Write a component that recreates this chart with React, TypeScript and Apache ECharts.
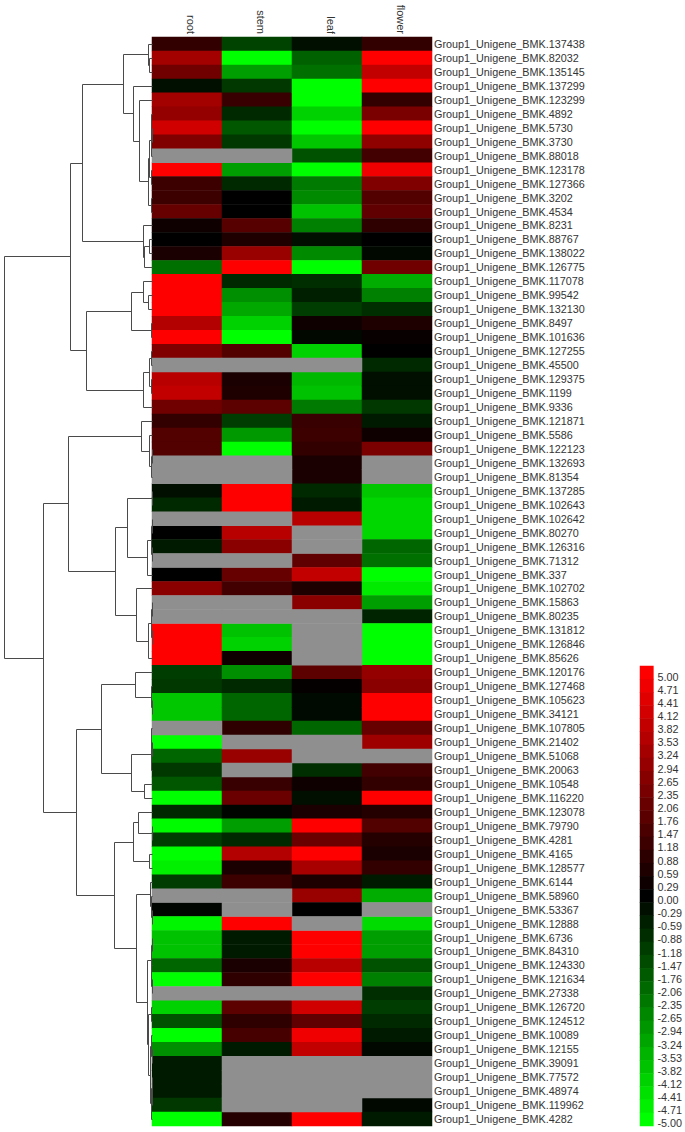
import React, { useEffect, useRef } from "react";
import * as echarts from "echarts";

const conditions = ["root", "stem", "leaf", "flower"];

const unigeneIds = [
  "137438","82032","135145","137299","123299","4892","5730","3730","88018","123178","127366","3202","4534","8231","88767","138022","126775",
  "117078","99542","132130","8497","101636","127255","45500","129375","1199","9336","121871","5586","122123","132693","81354",
  "137285","102643","102642","80270","126316","71312","337","102702","15863","80235","131812","126846","85626",
  "120176","127468","105623","34121","107805","21402","51068","20063","10548","116220","123078","79790","4281","4165","128577","6144","58960","53367","12888","6736","84310","124330","121634","27338","126720","124512","10089","12155","39091","77572","48974","119962","4282",
];

const rootValues = [
  1.0,3.2,2.2,-0.3,3.2,2.9,4.1,2.5,null,5,1.2,1.2,2.0,0.3,0,0.5,-2.2,
  5,5,5,3.5,5,2.5,null,3.6,3.8,2.2,1.0,1.6,1.6,null,null,
  -0.3,-0.8,null,0,-0.5,null,0,2.7,null,null,5,5,5,
  -1.2,-1.1,-3.9,-3.9,null,-5,-2,-1.1,-1.7,-5,-0.8,-4.9,-1.2,-5,-4.7,-1.2,null,-0.1,-4.8,-3.8,-3.8,-2,-5,null,-4.1,-1.6,-5,-2.8,-0.5,-0.5,-0.5,-1.1,-5,
];
const stemValues = [
  -1.3,-5,-3.1,-1.1,1.1,-0.8,-1.7,-1.1,null,-3.1,-0.8,0,0,1.7,0.6,3.0,5,
  -0.8,-2.8,-3.3,-4.1,-5,1.6,null,0.5,0.6,1.8,-1.2,-3,-5,null,null,
  5,5,null,3.6,2.7,null,2,1.3,null,null,-3.8,-4.1,0.3,
  -2.8,-0.8,-2,-2,0.9,null,3,null,1.1,2.1,-0.1,-3.1,-0.8,3.5,0.5,1.2,null,null,5,-0.5,-0.5,0.5,0.9,null,1.8,0.9,1.4,-0.5,null,null,null,null,0.7,
];
const leafValues = [
  -0.3,-1.9,-2.2,-5,-5,-4.1,-5,-3.9,-1.6,-5,-2.4,-2.7,-3.8,-2.5,-0.3,-2.7,-5,
  -0.9,-0.6,-1.2,0.3,-0.15,-4.1,null,-3.6,-3.8,-2.4,1.1,1.2,1.0,0.5,0.5,
  -0.8,-0.5,3.6,null,null,1.9,3.8,0.6,2.7,null,null,null,null,
  1.8,0.1,-0.2,-0.2,-2,null,null,-0.9,0.3,-0.3,0.5,5,2.1,5,3.3,0.6,3,0,null,5,5,3.6,5,null,4.1,1.9,4.7,3.8,null,null,null,null,5,
];
const flowerValues = [
  1.0,5,3.8,5,1.0,2.4,5,2.8,1.3,4.7,2.5,1.6,1.9,0.9,0,-0.15,2.2,
  -3.4,-2.5,-0.9,0.6,0.15,0,-0.8,-0.3,-0.3,-1.1,-0.5,0.3,2.4,null,null,
  -3.9,-4.2,-4.2,-4.2,-2,-2.2,-5,-4.6,-3.1,-0.7,-5,-5,-5,
  2.9,2.7,5,5,2,3.1,null,1.3,1,5,0.7,1.6,0.7,0.5,1,-0.5,-3.4,null,-4.3,-3.1,-3.1,-1.6,-2.5,-0.9,-1.2,-0.8,-0.5,-0.15,null,null,null,-0.15,-0.5,
];

const scaleLabels = [
  "5.00","4.71","4.41","4.12","3.82","3.53","3.24","2.94","2.65","2.35","2.06","1.76","1.47","1.18","0.88","0.59","0.29","0.00",
  "-0.29","-0.59","-0.88","-1.18","-1.47","-1.76","-2.06","-2.35","-2.65","-2.94","-3.24","-3.53","-3.82","-4.12","-4.41","-4.71","-5.00",
];

// Row clustering: [merge distance, child, child]; a bare number is a row index.
type Node = number | [number, Node, Node];
const upperClade: Node = [82.5,
  [70.5,
    [29.5,
      [4.5, 0, [3.5, 1, 2]],
      [19, 3, [13.5, 4,
        [4, [3.4, [1.5, [1, 5, [0.5, 6, 7]], 8], [1, 9, 10]], [1, 11, 12]]]]],
    [9.5, 13, [8, [3.5, 14, 15], 16]]],
  [66,
    [21.5, [9.5, 17, [4, 18, 19]], [1.5, 20, 21]],
    [9.5, [3.5, [1, 22, 23], [1, 24, 25]], 26]]];
const middleClade: Node = [84.5,
  [11, 27, [3.5, 28, [1, [0.5, 29, 30], 31]]],
  [37,
    [25, [0.5, 32, 33], [5.5, [1, [0.5, 34, 35], [0.5, 36, 37]], 38]],
    [16.5, 39, [4.5, [1, [0.5, 40, 41], [0.5, 42, 43]], 44]]]];
const lowerClade: Node = [76.5,
  [51.5,
    [17, 45, [1, 46, [0.5, 47, 48]]],
    [21.5, [1.5, [1, 49, [0.5, 50, 51]], 52], [8.5, 53, 54]]],
  [38,
    [19.5, [14.5, 55, [0.5, 56, 57]], [3.5, 58, 59]],
    [16.3,
      [2.5, 60, [1, 61, [0.5, 62, 63]]],
      [4.7,
        [1.3, [0.5, 64, 65], [0.8, 66, [0.5, 67, 68]]],
        [4, [1, 69, 70],
          [2, [1, 71, [0.5, 72, 73]], [1.3, [0.5, 74, [0.3, 75, 76]], 77]]]]]]];
const rowTree: Node = [148.5, upperClade, [109.5, middleClade, lowerClade]];

const RED = "#ff0000";
const GREEN = "#00ff00";
const MISSING = "#8f8f8f";
const LINE = "#4a4a4a";
const FONT = "'Liberation Sans', Arial, sans-serif";

function treeSegments(tree: Node) {
  const segs: number[][] = [];
  const walk = (n: Node): { d: number; y: number } => {
    if (typeof n === "number") return { d: 0, y: n + 0.5 };
    const a = walk(n[1]);
    const b = walk(n[2]);
    segs.push([n[0], a.y, n[0], b.y]);
    segs.push([n[0], a.y, a.d, a.y]);
    segs.push([n[0], b.y, b.d, b.y]);
    return { d: n[0], y: (a.y + b.y) / 2 };
  };
  walk(tree);
  return segs;
}

function buildOption() {
  const columns = [rootValues, stemValues, leafValues, flowerValues];
  const cells: number[][] = [];
  const missing: number[][] = [];
  columns.forEach((col, c) =>
    col.forEach((v, r) => {
      if (v === null) missing.push([c, r, 0]);
      else cells.push([c, r, v]);
    })
  );
  const rowCount = unigeneIds.length;
  return {
    animation: false,
    backgroundColor: "#ffffff",
    grid: [
      { left: 152, top: 37, width: 280, height: 1089 },
      { left: 640, top: 666, width: 14, height: 460 },
      { left: 0, top: 37, width: 152, height: 1089 },
    ],
    xAxis: [
      {
        type: "category", gridIndex: 0, position: "top", data: conditions,
        axisLine: { show: false }, axisTick: { show: false }, splitLine: { show: false },
        axisLabel: { rotate: 90, margin: 3, verticalAlign: "bottom", lineHeight: 7, fontSize: 11, color: "#333", fontFamily: FONT },
      },
      { type: "category", gridIndex: 1, data: ["scale"], show: false },
      { type: "value", gridIndex: 2, min: 0, max: 152, inverse: true, show: false },
    ],
    yAxis: [
      {
        type: "category", gridIndex: 0, position: "right", inverse: true,
        data: unigeneIds.map((id) => `Group1_Unigene_BMK.${id}`),
        axisLine: { show: false }, axisTick: { show: false }, splitLine: { show: false },
        axisLabel: { interval: 0, margin: 2, fontSize: 10.8, color: "#333", fontFamily: FONT },
      },
      {
        type: "category", gridIndex: 1, position: "right", inverse: true, data: scaleLabels,
        axisLine: { show: false }, axisTick: { show: false }, splitLine: { show: false },
        axisLabel: { interval: 0, margin: 4, verticalAlign: "top", lineHeight: 8, fontSize: 10.8, color: "#333", fontFamily: FONT },
      },
      { type: "value", gridIndex: 2, min: 0, max: rowCount, inverse: true, show: false },
    ],
    visualMap: [
      {
        show: false, type: "continuous", min: -5, max: 5, dimension: 2, seriesIndex: [0, 1],
        inRange: { color: [GREEN, "#000000", RED] },
      },
      {
        show: false, type: "continuous", min: 0, max: 1, dimension: 2, seriesIndex: 2,
        inRange: { color: [MISSING, MISSING] },
      },
    ],
    series: [
      { type: "heatmap", xAxisIndex: 0, yAxisIndex: 0, data: cells },
      {
        type: "heatmap", xAxisIndex: 1, yAxisIndex: 1,
        data: scaleLabels.map((s, i) => [0, i, parseFloat(s)]),
      },
      { type: "heatmap", xAxisIndex: 0, yAxisIndex: 0, data: missing },
      {
        type: "custom", xAxisIndex: 2, yAxisIndex: 2, clip: false,
        data: treeSegments(rowTree),
        encode: { x: [0, 2], y: [1, 3] },
        renderItem: (_: any, api: any) => {
          const a = api.coord([api.value(0), api.value(1)]);
          const b = api.coord([api.value(2), api.value(3)]);
          const p = (v: number) => Math.round(v) + 0.5;
          return {
            type: "line",
            shape: { x1: p(a[0]), y1: p(a[1]), x2: p(b[0]), y2: p(b[1]) },
            style: { stroke: LINE, lineWidth: 1, fill: null },
          };
        },
      },
    ],
  };
}

export default function App() {
  const ref = useRef<HTMLDivElement>(null);
  useEffect(() => {
    const chart = echarts.init(ref.current!, undefined, { renderer: "svg" });
    chart.setOption(buildOption() as any);
    return () => chart.dispose();
  }, []);
  return (
    <div
      ref={ref}
      style={{ position: "fixed", left: 0, top: 0, width: 685, height: 1132 }}
    />
  );
}
